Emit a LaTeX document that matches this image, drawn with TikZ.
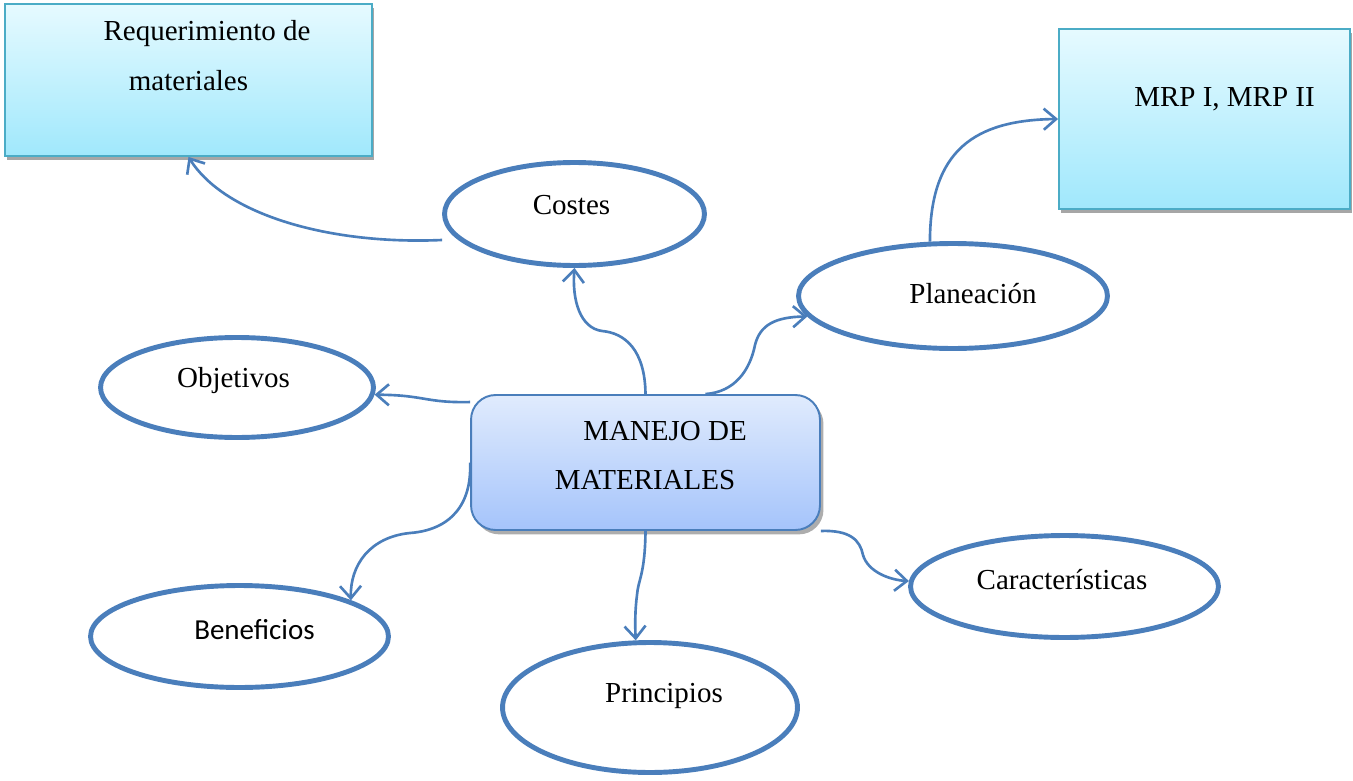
\documentclass[tikz,border=0pt]{standalone}
\usepackage{fontspec}
\setmainfont{Liberation Serif}
\newfontfamily\calib{Carlito}
\usetikzlibrary{shapes.geometric,arrows.meta,shadows}
\definecolor{lineblue}{RGB}{74,126,187}
\definecolor{tealb}{RGB}{75,172,198}
\definecolor{cyantop}{RGB}{230,250,255}
\definecolor{cyanbot}{RGB}{160,232,252}
\definecolor{bluetop}{RGB}{224,235,253}
\definecolor{bluebot}{RGB}{165,196,251}
\tikzset{
  oval/.style={ellipse, draw=lineblue, line width=2.8pt, fill=white, inner sep=0pt},
  cbox/.style={rectangle, draw=tealb, line width=1.1pt, top color=cyantop, bottom color=cyanbot,
    drop shadow={shadow xshift=1pt, shadow yshift=-2.5pt, fill=black!35, opacity=1}},
  mainbox/.style={rectangle, rounded corners=14pt, draw=lineblue, line width=1.1pt,
    top color=bluetop, bottom color=bluebot,
    drop shadow={shadow xshift=2pt, shadow yshift=-2.5pt, fill=black!40, opacity=0.8}},
  conn/.style={draw=lineblue, line width=1.5pt, -{Straight Barb[length=7pt,width=12pt]}},
  txt/.style={anchor=base, inner sep=0pt, font=\fontsize{16.5}{20}\selectfont},
}
\begin{document}
\begin{tikzpicture}[x=0.02cm,y=-0.02cm]
\useasboundingbox (0,0) rectangle (1353,781);

% boxes
\node[cbox, minimum width=7.34cm, minimum height=3.04cm] (req) at (188.5,80) {};
\node[cbox, minimum width=5.82cm, minimum height=3.6cm] (mrp) at (1204.5,119) {};
\node[mainbox, minimum width=6.98cm, minimum height=2.7cm] (main) at (645.5,462.5) {};

% ellipses
\node[oval, minimum width=5.2cm, minimum height=2.06cm] (costes) at (574.5,214) {};
\node[oval, minimum width=6.18cm, minimum height=2.1cm] (plan) at (953,296) {};
\node[oval, minimum width=5.46cm, minimum height=2.0cm] (obj) at (237,387.5) {};
\node[oval, minimum width=5.96cm, minimum height=2.04cm] (ben) at (239.5,636.5) {};
\node[oval, minimum width=5.9cm, minimum height=2.6cm] (prin) at (650,707.5) {};
\node[oval, minimum width=6.16cm, minimum height=2.04cm] (car) at (1064.5,586.5) {};

% texts
\node[txt] (reqt1) at (207,40) {Requerimiento de};
\node[txt] (reqt2) at (188.5,90.5) {materiales};
\node[txt] (mrpt) at (1224.5,106.5) {MRP I, MRP II};
\node[txt] (maint1) at (665,440) {MANEJO DE};
\node[txt] (maint2) at (645,489) {MATERIALES};
\node[txt] (costest) at (571.5,214) {Costes};
\node[txt] (plant) at (973,303) {Planeación};
\node[txt] (objt) at (233.5,387) {Objetivos};
\node[txt, font=\calib\fontsize{16.5}{20}\selectfont] (bent) at (254.5,639) {Beneficios};
\node[txt] (print) at (664,702) {Principios};
\node[txt] (cart) at (1062,589) {Características};

% connectors
\draw[conn] ([yshift=-0.52cm]costes.west) .. controls (330,245) and (225,215) .. (req.south);
\draw[conn] (plan.113) .. controls (930,150) and (975,120) .. (mrp.west);
\draw[conn] (main.north) .. controls (645,350) and (625,333) .. (602,331)
            .. controls (580,328) and (572,300) .. (costes.south);
\draw[conn] ([xshift=1.2cm]main.north) .. controls (735,392) and (750,370) .. (755,345)
            .. controls (760,325) and (775,317) .. (plan.188);
\draw[conn] ([yshift=-0.16cm]main.north west) .. controls (425,403) and (425,395) .. (obj.-3);
\draw[conn] (main.west) .. controls (472,505) and (450,530) .. (410,533)
            .. controls (370,537) and (350,565) .. (ben.18);
\draw[conn] (main.south) .. controls (645,575) and (638,580) .. (637,595)
            .. controls (635,610) and (635,625) .. (prin.102);
\draw[conn] (main.south east) .. controls (850,530) and (860,540) .. (863,555)
            .. controls (868,572) and (890,580) .. (car.178);
\end{tikzpicture}
\end{document}
